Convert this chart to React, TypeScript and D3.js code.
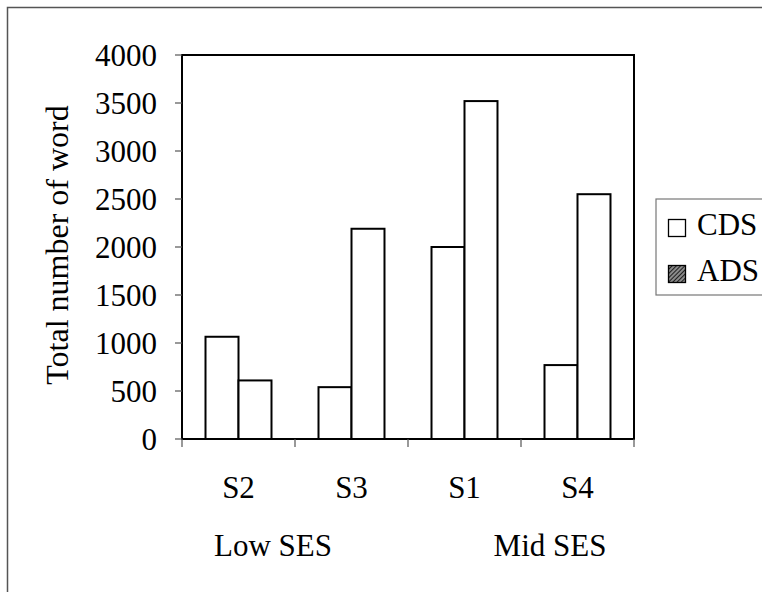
import React from "react";
import * as d3 from "d3";

// Words counted per speaker, child-directed (CDS) vs adult-directed (ADS)
const speakers = ["S2", "S3", "S1", "S4"];
const seriesNames = ["CDS", "ADS"];
const cdsValues = [1065, 540, 2000, 770];
const adsValues = [610, 2190, 3520, 2550];
const yTicks = [0, 500, 1000, 1500, 2000, 2500, 3000, 3500, 4000];
const groupLabels = ["Low SES", "Mid SES"];

const W = 762;
const H = 592;
const plot = { left: 182, right: 634, top: 55, bottom: 439 };
const FONT = "Liberation Serif";
const FS = 31;

export default function App() {
  const x = d3
    .scaleBand<string>()
    .domain(speakers)
    .range([plot.left, plot.right])
    .paddingInner(0.416)
    .paddingOuter(0.208);
  const xs = d3.scaleBand<string>().domain(seriesNames).range([0, x.bandwidth()]);
  const y = d3.scaleLinear().domain([0, 4000]).range([plot.bottom, plot.top]);

  const step = x.step();
  const boundaries = d3.range(speakers.length + 1).map((i) => plot.left + i * step);

  const rows = speakers.map((s, i) => ({ s, vals: [cdsValues[i], adsValues[i]] }));

  const groupX = [
    (x("S2")! + x("S3")! + x.bandwidth()) / 2 - 22,
    (x("S1")! + x("S4")! + x.bandwidth()) / 2 + 29,
  ];

  const textStyle = { fontFamily: FONT, fontSize: FS, fill: "#000" } as const;

  return (
    <svg
      width={W}
      height={H}
      style={{ position: "absolute", left: 0, top: 0, display: "block", background: "#fff" }}
    >
      <defs>
        <pattern id="hatch" width="3" height="3" patternUnits="userSpaceOnUse" patternTransform="rotate(45)">
          <rect width="3" height="3" fill="#8a8a8a" />
          <line x1="0" y1="0" x2="0" y2="3" stroke="#111" strokeWidth="1.8" />
        </pattern>
      </defs>

      {/* outer chart frame */}
      <rect x={7.5} y={7.5} width={W + 20} height={H + 20} fill="#fff" stroke="#555" strokeWidth={1.5} />

      {/* bars */}
      {rows.map((r) =>
        r.vals.map((v, j) => (
          <rect
            key={r.s + j}
            x={x(r.s)! + xs(seriesNames[j])!}
            y={y(v)}
            width={xs.bandwidth()}
            height={plot.bottom - y(v)}
            fill="#fff"
            stroke="#000"
            strokeWidth={2}
          />
        ))
      )}

      {/* plot area border */}
      <rect
        x={plot.left}
        y={plot.top}
        width={plot.right - plot.left}
        height={plot.bottom - plot.top}
        fill="none"
        stroke="#000"
        strokeWidth={2}
      />

      {/* y axis ticks and labels */}
      {yTicks.map((t) => (
        <g key={t}>
          <line x1={plot.left - 7} x2={plot.left} y1={y(t)} y2={y(t)} stroke="#555" strokeWidth={1.2} />
          <text x={157} y={y(t)} dy="0.34em" textAnchor="end" style={textStyle}>
            {t}
          </text>
        </g>
      ))}

      {/* x axis ticks at category boundaries */}
      {boundaries.map((b, i) => (
        <line key={i} x1={b} x2={b} y1={plot.bottom} y2={plot.bottom + 8} stroke="#555" strokeWidth={1.2} />
      ))}

      {speakers.map((s) => (
        <text key={s} x={x(s)! + x.bandwidth() / 2} y={498} textAnchor="middle" style={textStyle}>
          {s}
        </text>
      ))}

      {groupLabels.map((g, i) => (
        <text key={g} x={groupX[i]} y={556} textAnchor="middle" style={textStyle}>
          {g}
        </text>
      ))}

      {/* y axis title */}
      <text
        transform="translate(68, 245) rotate(-90)"
        textAnchor="middle"
        style={{ ...textStyle, fontSize: 32 }}
      >
        Total number of word
      </text>

      {/* legend */}
      <g>
        <rect x={656} y={199} width={130} height={96} fill="#fff" stroke="#777" strokeWidth={1.2} />
        {seriesNames.map((n, i) => (
          <g key={n} transform={`translate(668, ${219 + i * 46})`}>
            <rect
              x={0.5}
              y={0.5}
              width={17}
              height={17}
              fill={n === "ADS" ? "url(#hatch)" : "#fff"}
              stroke="#000"
              strokeWidth={1.3}
            />
            <text x={29} y={16} style={textStyle}>
              {n}
            </text>
          </g>
        ))}
      </g>
    </svg>
  );
}
